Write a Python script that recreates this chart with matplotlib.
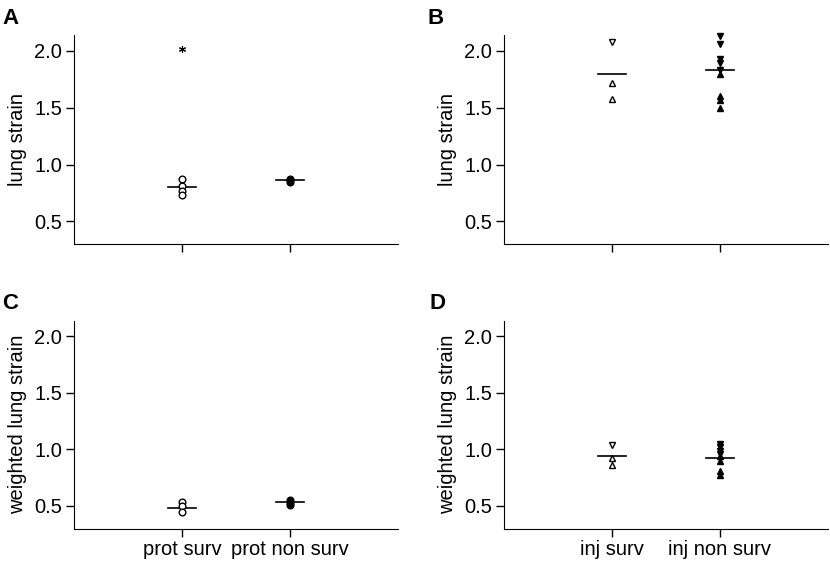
import matplotlib.pyplot as plt

plt.rcParams['font.family'] = ['Liberation Sans', 'DejaVu Sans']

# panel A: lung strain, protective ventilation
a_surv = [0.87, 0.81, 0.77, 0.73]
a_surv_outlier = [2.02]
a_surv_mean = 0.806
a_nonsurv = [0.87, 0.86, 0.85]
a_nonsurv_mean = 0.86

# panel B: lung strain, injurious ventilation
b_surv_down = [2.08]
b_surv_up = [1.715, 1.575]
b_surv_mean = 1.795
b_nonsurv_down = [2.13, 2.06, 1.93, 1.89, 1.83]
b_nonsurv_up = [1.80, 1.60, 1.565, 1.50]
b_nonsurv_mean = 1.83

# panel C: weighted lung strain, protective
c_surv = [0.535, 0.50, 0.445]
c_surv_mean = 0.477
c_nonsurv = [0.55, 0.53, 0.51]
c_nonsurv_mean = 0.535

# panel D: weighted lung strain, injurious
d_surv_down = [1.04]
d_surv_up = [0.92, 0.865]
d_surv_mean = 0.94
d_nonsurv_down = [1.045, 1.02, 0.99, 0.96]
d_nonsurv_up = [0.945, 0.90, 0.81, 0.77]
d_nonsurv_mean = 0.923

prot_labels = ["prot surv", "prot non surv"]
inj_labels = ["inj surv", "inj non surv"]

fs = 14.5

fig = plt.figure(figsize=(8.3, 5.65), dpi=100)
axA = fig.add_axes([0.0892, 0.568, 0.3904, 0.370])
axB = fig.add_axes([0.6072, 0.568, 0.3904, 0.370])
axC = fig.add_axes([0.0892, 0.0646, 0.3904, 0.368])
axD = fig.add_axes([0.6072, 0.0646, 0.3904, 0.368])


def style(ax, ylabel, labels):
    ax.set_xlim(0, 3)
    ax.set_ylim(0.3, 2.14)
    ax.set_yticks([0.5, 1.0, 1.5, 2.0])
    ax.set_xticks([1, 2])
    ax.set_xticklabels(labels)
    ax.spines['top'].set_visible(False)
    ax.spines['right'].set_visible(False)
    ax.tick_params(direction='out', length=5.5, width=1, labelsize=fs, pad=3)
    ax.set_ylabel(ylabel, fontsize=fs, labelpad=5)


def mean_line(ax, x, m):
    ax.plot([x - 0.13, x + 0.13], [m, m], color='black', lw=1.2)


def pts(ax, x, vals, marker, filled, ms=4.8, mew=1):
    ax.plot([x] * len(vals), vals, linestyle='none', marker=marker, ms=ms,
            mfc='black' if filled else 'white', mec='black', mew=mew,
            clip_on=False, zorder=3)


# A
pts(axA, 1, a_surv, 'o', False)
pts(axA, 1, a_surv_outlier, (6, 2, 0), False, ms=5, mew=0.8)
mean_line(axA, 1, a_surv_mean)
pts(axA, 2, a_nonsurv, 'o', True)
mean_line(axA, 2, a_nonsurv_mean)
style(axA, "lung strain", ["", ""])

# B
pts(axB, 1, b_surv_down, 'v', False)
pts(axB, 1, b_surv_up, '^', False)
mean_line(axB, 1, b_surv_mean)
pts(axB, 2, b_nonsurv_down, 'v', True)
pts(axB, 2, b_nonsurv_up, '^', True)
mean_line(axB, 2, b_nonsurv_mean)
style(axB, "lung strain", ["", ""])

# C
pts(axC, 1, c_surv, 'o', False)
mean_line(axC, 1, c_surv_mean)
pts(axC, 2, c_nonsurv, 'o', True)
mean_line(axC, 2, c_nonsurv_mean)
style(axC, "weighted lung strain", prot_labels)

# D
pts(axD, 1, d_surv_down, 'v', False)
pts(axD, 1, d_surv_up, '^', False)
mean_line(axD, 1, d_surv_mean)
pts(axD, 2, d_nonsurv_down, 'v', True)
pts(axD, 2, d_nonsurv_up, '^', True)
mean_line(axD, 2, d_nonsurv_mean)
style(axD, "weighted lung strain", inj_labels)

# panel letters
for letter, x, y in [("A", 2, 8), ("B", 427, 8), ("C", 2, 293), ("D", 429, 293)]:
    fig.text(x / 830, 1 - y / 565, letter, fontsize=16, fontweight='bold',
             ha='left', va='top')

fig.savefig("out.png", dpi=100)
